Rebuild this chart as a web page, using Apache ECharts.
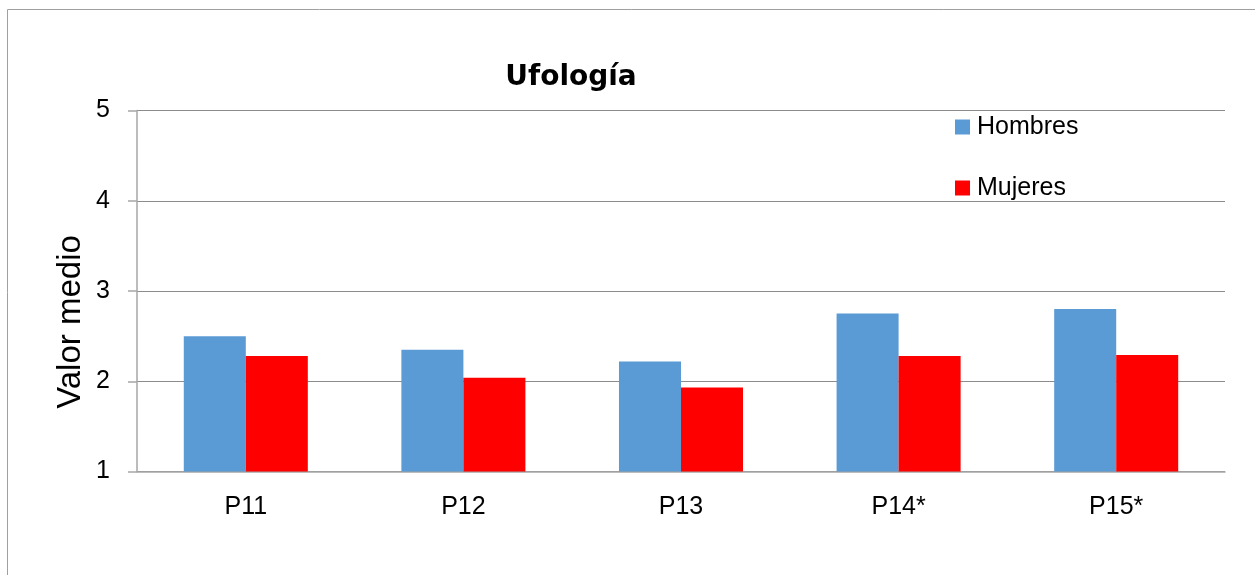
<!DOCTYPE html>
<html>
<head>
<meta charset="utf-8">
<script src="https://cdn.jsdelivr.net/npm/echarts@6/dist/echarts.min.js"></script>
<style>
html,body{margin:0;padding:0;background:#fff;}
#c{width:1255px;height:575px;}
</style>
</head>
<body>
<div id="c"></div>
<script>
const categories = ['P11', 'P12', 'P13', 'P14*', 'P15*'];
const hombres = [2.50, 2.35, 2.22, 2.75, 2.80];
const mujeres = [2.28, 2.04, 1.93, 2.28, 2.29];
const seriesNames = ['Hombres', 'Mujeres'];
const chartTitle = 'Ufología';
const yAxisTitle = 'Valor medio';

const chart = echarts.init(document.getElementById('c'), null, {renderer: 'canvas'});
const font = 'Liberation Sans, Arial, sans-serif';
chart.setOption({
  backgroundColor: '#ffffff',
  animation: false,
  title: {
    text: chartTitle,
    left: 566,
    top: 59,
    textAlign: 'center',
    textStyle: {fontFamily: 'DejaVu Sans, sans-serif', fontWeight: 'bold', fontSize: 28, color: '#000'}
  },
  legend: {
    orient: 'vertical',
    left: 950,
    top: 109,
    itemWidth: 15,
    itemHeight: 15,
    itemGap: 35,
    icon: 'rect',
    data: seriesNames,
    textStyle: {fontFamily: font, fontSize: 25, lineHeight: 26, color: '#000', padding: [0,0,0,2]}
  },
  grid: {left: 137, right: 30, top: 110.5, bottom: 103.5, containLabel: false},
  xAxis: {
    type: 'category',
    data: categories,
    axisLine: {show: true, lineStyle: {color: '#a6a6a6', width: 1.5}},
    axisTick: {show: false},
    axisLabel: {fontFamily: font, fontSize: 25, color: '#000', margin: 23}
  },
  yAxis: {
    type: 'value',
    min: 1, max: 5, interval: 1,
    axisLine: {show: true, lineStyle: {color: '#a6a6a6', width: 1.5}},
    axisTick: {show: true, length: 9, lineStyle: {color: '#a6a6a6', width: 1.5}},
    axisLabel: {fontFamily: font, fontSize: 25, color: '#000', margin: 27},
    splitLine: {show: true, lineStyle: {color: '#8c8c8c', width: 1}}
  },
  graphic: [
    {type: 'rect', shape: {x: 7.5, y: 9.5, width: 1400, height: 700}, style: {fill: null, stroke: '#a0a0a0', lineWidth: 1}, silent: true},
    {type: 'text', x: 71, y: 322, rotation: Math.PI / 2, style: {text: yAxisTitle, fontFamily: font, fontSize: 33, fill: '#000', align: 'center', verticalAlign: 'middle'}}
  ],
  series: [
    {name: seriesNames[0], type: 'bar', data: hombres, barGap: '0%', barCategoryGap: '43%', itemStyle: {color: '#5b9bd5'}},
    {name: seriesNames[1], type: 'bar', data: mujeres, barGap: '0%', barCategoryGap: '43%', itemStyle: {color: '#ff0000'}}
  ]
});
</script>
</body>
</html>
